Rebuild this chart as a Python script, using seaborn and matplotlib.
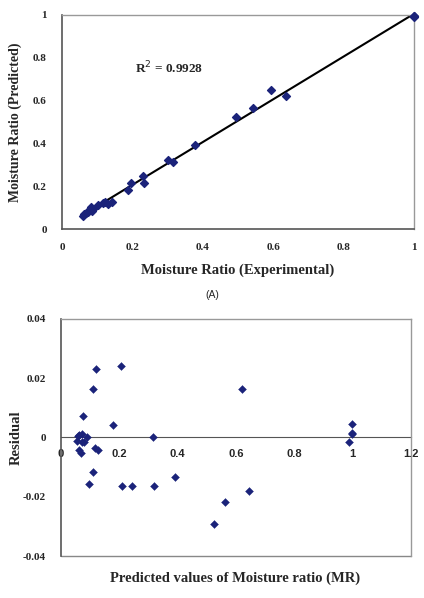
import numpy as np
import pandas as pd
import matplotlib
matplotlib.use('Agg')
import matplotlib.pyplot as plt
import seaborn as sns

sns.set_style('white')

# Top plot: experimental vs predicted moisture ratio
mr_exp = [0.059, 0.064, 0.068, 0.073, 0.080, 0.083, 0.085, 0.087, 0.102, 0.116,
          0.123, 0.130, 0.142, 0.187, 0.196, 0.230, 0.234, 0.301, 0.315, 0.377,
          0.495, 0.543, 0.593, 0.638, 1.0, 1.0, 1.0]
mr_pred = [0.061, 0.069, 0.076, 0.081, 0.092, 0.101, 0.086, 0.092, 0.112, 0.120,
           0.128, 0.117, 0.126, 0.182, 0.213, 0.248, 0.213, 0.322, 0.312, 0.393,
           0.525, 0.564, 0.648, 0.621, 0.997, 0.992, 0.994]

# Bottom plot: residuals vs predicted
res_x = [0.057, 0.063, 0.071, 0.055, 0.061, 0.069, 0.071, 0.080, 0.088, 0.074,
         0.109, 0.120, 0.118, 0.126, 0.109, 0.097, 0.178, 0.206, 0.210, 0.243,
         0.314, 0.320, 0.392, 0.524, 0.563, 0.621, 0.644, 0.997, 0.999, 0.999, 0.987]
res_y = [0.0006, 0.0009, 0.0011, -0.0013, -0.0041, -0.0053, -0.0016, -0.0017, 0.0002, 0.0073,
         0.0162, 0.0232, -0.0034, -0.0042, -0.0115, -0.0156, 0.0042, 0.0241, -0.0164, -0.0162,
         0.0001, -0.0162, -0.0132, -0.0293, -0.0216, 0.0164, -0.0180, 0.0046, 0.0015, 0.0010, -0.0015]

top_ticks = [0, 0.2, 0.4, 0.6, 0.8, 1]
top_labels = ['0', '0.2', '0.4', '0.6', '0.8', '1']
res_xticks = [0, 0.2, 0.4, 0.6, 0.8, 1, 1.2]
res_xlabels = ['0', '0.2', '0.4', '0.6', '0.8', '1', '1.2']
res_yticks = [-0.04, -0.02, 0, 0.02, 0.04]
res_ylabels = ['-0.04', '-0.02', '0', '0.02', '0.04']

navy = '#1B237A'
serif = 'Liberation Serif'
sans = 'Liberation Sans'

df_top = pd.DataFrame({'exp': mr_exp, 'pred': mr_pred})
df_res = pd.DataFrame({'x': res_x, 'y': res_y})

fig = plt.figure(figsize=(4.24, 5.98), dpi=100)
ax1 = fig.add_axes([0.146, 0.617, 0.830, 0.358])
ax2 = fig.add_axes([0.144, 0.070, 0.825, 0.397])

# --- top panel ---
sns.regplot(data=df_top, x='exp', y='pred', ax=ax1, ci=None, truncate=True,
            marker='D', scatter_kws={'s': 16, 'color': navy, 'alpha': 1,
                                     'zorder': 3, 'clip_on': False},
            line_kws={'color': 'black', 'lw': 1.5, 'zorder': 2})
ax1.set_xlim(0, 1)
ax1.set_ylim(0, 1)
ax1.set_xticks(top_ticks, top_labels)
ax1.set_yticks(top_ticks, top_labels)
for lab in ax1.get_xticklabels() + ax1.get_yticklabels():
    lab.set_family(serif)
    lab.set_fontweight('bold')
    lab.set_fontsize(8)
ax1.tick_params(axis='both', direction='out', length=3, width=0.8, color='#555555')
ax1.tick_params(axis='x', pad=7)
ax1.tick_params(axis='y', pad=8)
ax1.set_xlabel('Moisture Ratio (Experimental)', family=serif, fontweight='bold',
               fontsize=10.5, labelpad=8)
ax1.set_ylabel('Moisture Ratio (Predicted)', family=serif, fontweight='bold',
               fontsize=10)
ax1.yaxis.set_label_coords(-0.112, 0.5)
ax1.text(0.207, 0.75, r'R$^{2}$ = 0.9928', family=serif, fontweight='bold',
         fontsize=9.5, va='center')
for side in ['left', 'bottom']:
    ax1.spines[side].set_color('#555555')
    ax1.spines[side].set_linewidth(1.2)
for side in ['top', 'right']:
    ax1.spines[side].set_color('#999999')
    ax1.spines[side].set_linewidth(1.0)
fig.text(0.5, 0.506, '(A)', family=sans, fontsize=7.5, ha='center', va='center')

# --- bottom panel ---
sns.scatterplot(data=df_res, x='x', y='y', ax=ax2, marker='D', s=16,
                color=navy, edgecolor=navy, zorder=3)
ax2.set_xlim(0, 1.2)
ax2.set_ylim(-0.04, 0.04)
ax2.set_xticks(res_xticks, res_xlabels)
ax2.set_yticks(res_yticks, res_ylabels)
ax2.spines['bottom'].set_position(('data', 0))
ax2.spines['bottom'].set_color('#555555')
ax2.spines['bottom'].set_zorder(1)
ax2.axhline(-0.04, color='#888888', lw=1.0, clip_on=False)
for lab in ax2.get_xticklabels():
    lab.set_family(sans)
    lab.set_fontweight('bold')
    lab.set_fontsize(8)
for lab in ax2.get_yticklabels():
    lab.set_family(serif)
    lab.set_fontweight('bold')
    lab.set_fontsize(8)
ax2.tick_params(axis='both', direction='out', length=3, width=0.8, color='#555555')
ax2.tick_params(axis='x', pad=5)
ax2.tick_params(axis='y', pad=8)
ax2.set_xlabel('')
ax2.set_ylabel('Residual', family=serif, fontweight='bold', fontsize=10.5)
ax2.yaxis.set_label_coords(-0.11, 0.5)
fig.text(0.555, 0.033, 'Predicted values of Moisture ratio (MR)', family=serif,
         fontweight='bold', fontsize=10.5, ha='center', va='center')
ax2.spines['left'].set_color('#555555')
ax2.spines['left'].set_linewidth(1.2)
for side in ['top', 'right']:
    ax2.spines[side].set_color('#999999')
    ax2.spines[side].set_linewidth(1.0)

fig.savefig('out.png', dpi=100)
